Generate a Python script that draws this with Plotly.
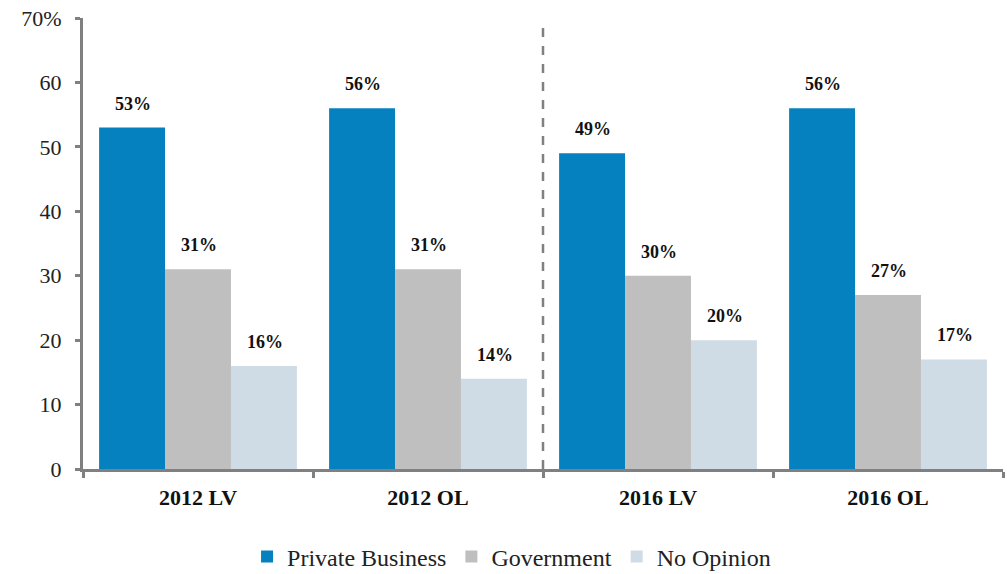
import plotly.graph_objects as go

categories = ["2012 LV", "2012 OL", "2016 LV", "2016 OL"]
private_business = [53, 56, 49, 56]
government = [31, 31, 30, 27]
no_opinion = [16, 14, 20, 17]
series_names = ["Private Business", "Government", "No Opinion"]
tick_values = [0, 10, 20, 30, 40, 50, 60, 70]
tick_labels = ["0", "10", "20", "30", "40", "50", "60", "70%"]

colors = ["#0581BF", "#BFBFBF", "#CFDCE6"]
series = [private_business, government, no_opinion]
SERIF = "Liberation Serif"

fig = go.Figure()
for name, vals, col in zip(series_names, series, colors):
    fig.add_trace(go.Bar(x=categories, y=vals, name=name, marker_color=col,
                         marker_line_width=0))

annotations = []
bar_px = 66
for si, vals in enumerate(series):
    for cat, v in zip(categories, vals):
        annotations.append(dict(x=cat, y=v, xref="x", yref="y", text=f"<b>{v}%</b>",
                                showarrow=False, xshift=(si - 1) * bar_px + 1, yshift=24,
                                font=dict(family=SERIF, size=18, color="#111")))

fig.update_layout(
    width=1007, height=574,
    margin=dict(l=83, r=4, t=18, b=105, autoexpand=False),
    plot_bgcolor="white", paper_bgcolor="white",
    barmode="group", bargap=0.14, bargroupgap=0,
    font=dict(family=SERIF, size=22, color="#222"),
    showlegend=True,
    legend=dict(orientation="h", x=0.508, xanchor="center", xref="container",
                y=0.03, yanchor="middle", yref="container",
                font=dict(family=SERIF, size=24, color="#222", weight="normal"),
                traceorder="normal", itemwidth=30),
    annotations=annotations,
    shapes=[dict(type="line", xref="x", yref="y", x0=1.5, x1=1.5, y0=0, y1=69.4,
                 line=dict(color="#808080", width=2.5, dash="dash"))],
)
fig.update_xaxes(
    showline=True, linecolor="#808080", linewidth=3,
    ticks="outside", ticklen=6, tickwidth=3, tickcolor="#808080",
    tickson="boundaries", showgrid=False,
    tickfont=dict(family=SERIF, size=22, color="#111", weight="bold"),
    ticklabelstandoff=7,
)
fig.update_yaxes(
    range=[0, 70], tickvals=tick_values, ticktext=tick_labels,
    showline=True, linecolor="#808080", linewidth=3,
    ticks="outside", ticklen=5, tickwidth=3, tickcolor="#808080",
    showgrid=False, zeroline=False,
    tickfont=dict(family=SERIF, size=22, color="#222"),
    ticklabelstandoff=9,
)

fig.write_html("out.html", config={"displayModeBar": False},
               post_script="document.body.style.margin='0';")
